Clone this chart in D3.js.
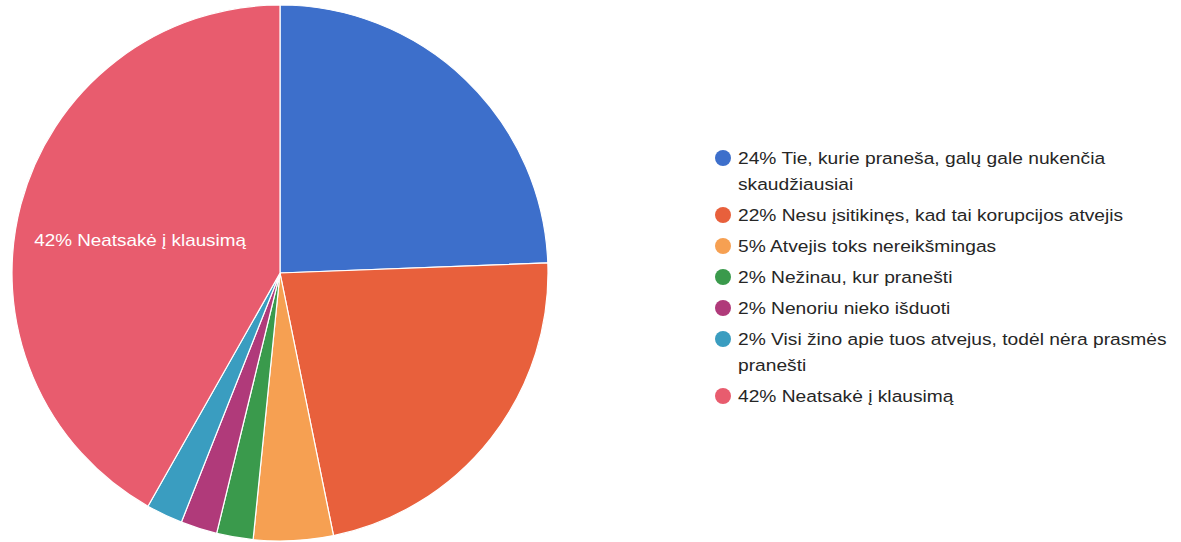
<!DOCTYPE html>
<html>
<head>
<meta charset="utf-8">
<script src="https://cdn.jsdelivr.net/npm/d3@7"></script>
<style>
  html, body { margin: 0; padding: 0; background: #fff; }
  svg { display: block; }
</style>
</head>
<body>
<svg id="chart" width="1181" height="542"></svg>
<script>
const categories = [
  "Tie, kurie praneša, galų gale nukenčia skaudžiausiai",
  "Nesu įsitikinęs, kad tai korupcijos atvejis",
  "Atvejis toks nereikšmingas",
  "Nežinau, kur pranešti",
  "Nenoriu nieko išduoti",
  "Visi žino apie tuos atvejus, todėl nėra prasmės pranešti",
  "Neatsakė į klausimą"
];
const values = [24.4, 22.4, 4.8, 2.2, 2.2, 2.2, 41.8];
const colors = ["#3d6fcb", "#e8603c", "#f6a052", "#3a9a4c", "#b03a7a", "#3a9dc0", "#e85c6e"];

const svg = d3.select("#chart");
const cx = 280, cy = 273, R = 268;
const FONT = "Liberation Sans, Arial, sans-serif";

const total = d3.sum(values);
const data = categories.map((c, i) => ({ name: c, value: values[i], color: colors[i], pct: Math.round(values[i] / total * 100) }));

const pie = d3.pie().value(d => d.value).sort(null);
const arcs = pie(data);
const arc = d3.arc().innerRadius(0).outerRadius(R);
const labelArc = d3.arc().innerRadius(R * 0.54).outerRadius(R * 0.54);

const g = svg.append("g").attr("transform", `translate(${cx},${cy})`);
g.selectAll("path.slice").data(arcs).enter().append("path")
  .attr("class", "slice")
  .attr("d", arc)
  .attr("fill", d => d.data.color)
  .attr("stroke", "#ffffff")
  .attr("stroke-width", 1.2);

// in-slice label only for slices large enough
g.selectAll("g.slabel").data(arcs.filter(d => d.data.value > 30)).enter().append("g")
  .attr("class", "slabel")
  .attr("transform", d => `translate(${labelArc.centroid(d)}) scale(1.18,1)`)
  .append("text")
  .attr("text-anchor", "middle")
  .attr("dy", "0.62em")
  .attr("font-family", FONT)
  .attr("font-size", 16)
  .attr("fill", "#ffffff")
  .text(d => `${d.data.pct}% ${d.data.name}`);

// legend
const lx = 723, tx = 738, sx = 1.13, maxW = 440 / sx;
const lineH = 26, itemGap = 31;
const legend = svg.append("g");
let y = 158;
data.forEach(d => {
  const item = legend.append("g");
  item.append("circle").attr("cx", lx).attr("cy", y).attr("r", 8).attr("fill", d.color);
  const text = item.append("text")
    .attr("transform", `translate(${tx},0) scale(${sx},1)`)
    .attr("x", 0)
    .attr("font-family", FONT)
    .attr("font-size", 17)
    .attr("fill", "#262626");
  const words = `${d.pct}% ${d.name}`.split(" ");
  let line = [];
  let nLines = 0;
  let tsp = text.append("tspan").attr("x", 0).attr("y", y).attr("dy", "0.35em");
  words.forEach(w => {
    line.push(w);
    tsp.text(line.join(" "));
    if (tsp.node().getComputedTextLength() > maxW && line.length > 1) {
      line.pop();
      tsp.text(line.join(" "));
      nLines++;
      line = [w];
      tsp = text.append("tspan").attr("x", 0).attr("y", y + lineH * nLines).attr("dy", "0.35em").text(w);
    }
  });
  y += nLines * lineH + itemGap;
});
</script>
</body>
</html>
